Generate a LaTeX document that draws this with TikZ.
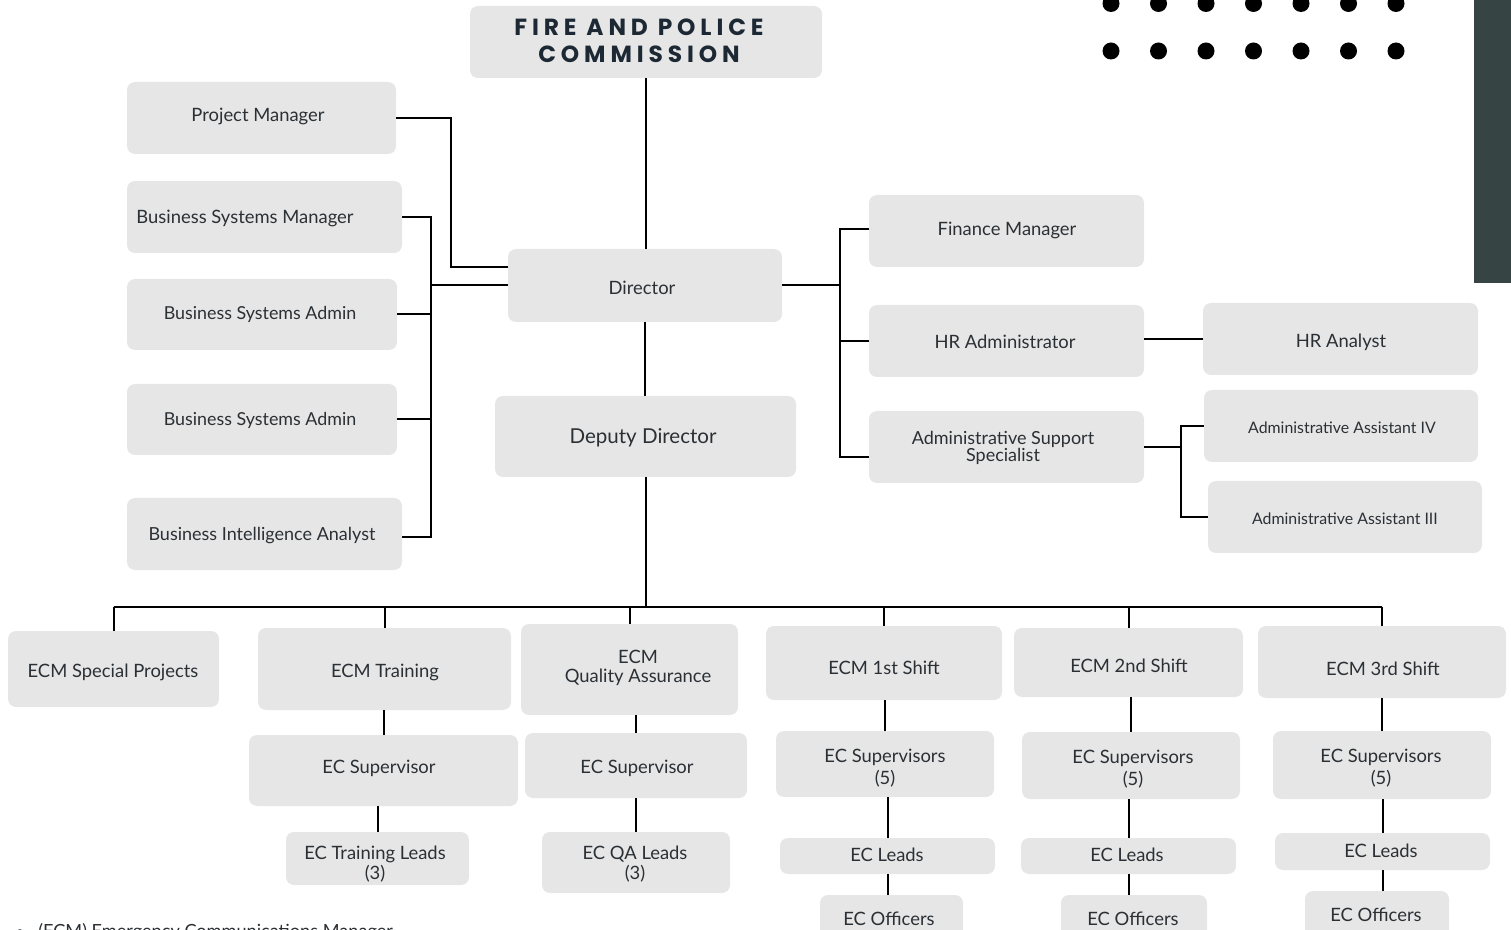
\documentclass[tikz,border=0pt]{standalone}
\usepackage{fontspec}
\setmainfont{Lato}
\newfontfamily\titlefont[LetterSpace=21]{Poppins}
\usetikzlibrary{calc}
\definecolor{boxgray}{HTML}{E6E6E6}
\definecolor{txtcol}{HTML}{2B3035}
\definecolor{titlecol}{HTML}{1C2833}
\definecolor{barcol}{HTML}{374444}
\tikzset{
  box/.style={fill=boxgray, rounded corners=6pt, inner sep=0pt, draw=none},
  txt/.style={text=txtcol, align=center, inner sep=0pt, yshift=-1.5pt, font=\fontsize{13.8}{13}\selectfont},
  small/.style={font=\fontsize{11.9}{12}\selectfont},
  big/.style={font=\fontsize{15.4}{16}\selectfont},
  conn/.style={line width=1.5pt, black},
}
% name x1 y1 x2 y2 tx ty [txt options] text
\newcommand\bx[9]{%
  \node[box, minimum width={(#4-#2)*0.75pt}, minimum height={(#5-#3)*0.75pt}] (#1) at ({(#2+#4)/2},{(#3+#5)/2}) {};
  \node[txt,#8] (#1t) at (#6,#7) {#9};}
\begin{document}
\begin{tikzpicture}[x=0.75pt,y=-0.75pt]
\useasboundingbox (0,0) rectangle (1511,930);
\clip (0,0) rectangle (1511,930);
% decorations
\fill[barcol] (1474,-5) rectangle (1520,283);
\foreach \i in {0,...,6} {
  \fill[black] ({1111+47.5*\i},3.5) circle (8.5);
  \fill[black] ({1111+47.5*\i},51) circle (8.5);
}
% title
\node[box, minimum width={352*0.75pt}, minimum height={72*0.75pt}] (fpc) at (646,42) {};
\node[text=titlecol, align=center, inner sep=0pt, font=\titlefont\bfseries\fontsize{17.5}{20.5}\selectfont] (fpct) at (639,41) {FIRE AND POLICE\\COMMISSION};
% left column
\bx{pm}{127}{82}{396}{154}{258}{114}{}{Project Manager}
\bx{bsm}{127}{181}{402}{253}{245}{216}{}{Business Systems Manager}
\bx{bsa1}{127}{279}{397}{350}{260}{312}{font=\fontsize{13.4}{13}\selectfont}{Business Systems Admin}
\bx{bsa2}{127}{384}{397}{455}{260}{418}{font=\fontsize{13.4}{13}\selectfont}{Business Systems Admin}
\bx{bia}{127}{498}{402}{570}{262}{534}{font=\fontsize{13.5}{13}\selectfont}{Business Intelligence Analyst}
% center
\bx{dir}{508}{249}{782}{322}{642}{286}{}{Director}
\bx{dep}{495}{396}{796}{477}{643}{436}{big}{Deputy Director}
% right
\bx{fm}{869}{195}{1144}{267}{1007}{228}{}{Finance Manager}
\bx{hra}{869}{305}{1144}{377}{1005}{340}{}{HR Administrator}
\bx{ass}{869}{411}{1144}{483}{1003}{446}{font=\fontsize{13.5}{12.75}\selectfont}{Administrative Support\\Specialist}
\bx{hran}{1203}{303}{1478}{375}{1341}{340}{}{HR Analyst}
\bx{aa4}{1204}{390}{1478}{462}{1342}{426}{small}{Administrative Assistant IV}
\bx{aa3}{1208}{481}{1482}{553}{1345}{517}{small}{Administrative Assistant III}
% ECM row
\bx{sp}{8}{631}{219}{707}{113}{670}{}{ECM Special Projects}
\bx{tr}{258}{628}{511}{710}{385}{670}{}{ECM Training}
\bx{qa}{521}{624}{738}{715}{638}{666}{font=\fontsize{13.8}{14.25}\selectfont}{ECM\\Quality Assurance}
\bx{s1}{766}{626}{1002}{700}{884}{666}{}{ECM 1st Shift}
\bx{s2}{1014}{628}{1243}{697}{1129}{664}{}{ECM 2nd Shift}
\bx{s3}{1258}{626}{1506}{698}{1383}{667}{}{ECM 3rd Shift}
% supervisors
\bx{trsup}{249}{735}{518}{806}{379}{766}{}{EC Supervisor}
\bx{qasup}{525}{733}{747}{798}{637}{766}{}{EC Supervisor}
\bx{s1sup}{776}{731}{994}{797}{885}{766}{font=\fontsize{13.8}{16.5}\selectfont}{EC Supervisors\\(5)}
\bx{s2sup}{1022}{732}{1240}{799}{1133}{767}{font=\fontsize{13.8}{16.5}\selectfont}{EC Supervisors\\(5)}
\bx{s3sup}{1273}{731}{1491}{799}{1381}{766}{font=\fontsize{13.8}{16.5}\selectfont}{EC Supervisors\\(5)}
% leads
\bx{trl}{286}{832}{469}{885}{375}{862}{font=\fontsize{13.8}{15}\selectfont}{EC Training Leads\\(3)}
\bx{qal}{542}{832}{730}{893}{635}{862}{font=\fontsize{13.8}{15}\selectfont}{EC QA Leads\\(3)}
\bx{l1}{780}{838}{995}{874}{887}{853}{}{EC Leads}
\bx{l2}{1021}{838}{1236}{874}{1127}{853}{}{EC Leads}
\bx{l3}{1275}{833}{1490}{870}{1381}{849}{}{EC Leads}
% officers
\bx{o1}{820}{895}{963}{950}{889}{917}{}{EC Officers}
\bx{o2}{1061}{895}{1207}{950}{1133}{917}{}{EC Officers}
\bx{o3}{1305}{891}{1449}{950}{1376}{913}{}{EC Officers}
% footnote
\node[text=txtcol, anchor=base west, inner sep=0pt, font=\fontsize{13.6}{13}\selectfont] (fn) at (38,937) {(ECM) Emergency Communications Manager};
\node[text=txtcol, anchor=base, inner sep=0pt, font=\fontsize{12}{12}\selectfont] (bul) at (20,937) {\textbullet};
% connectors
\coordinate (lb) at (431,0);
\coordinate (rb) at (840,0);
\coordinate (ab) at (1181,470);
\coordinate (bus) at (0,607);
\draw[conn] (fpc.south) -- (fpc.south |- dir.north);
\draw[conn] (dir.south) -- (dir.south |- dep.north);
\draw[conn] (pm.east) -- ++(55,0) |- ($(dir.west)+(0,-18)$);
\draw[conn] (bsm.east) -- (bsm.east -| lb) -- ($(bia.east -| lb)+(0,3)$) -- ($(bia.east)+(0,3)$);
\draw[conn] (bsa1.east) -- (bsa1.east -| lb);
\draw[conn] (bsa2.east) -- (bsa2.east -| lb);
\draw[conn] (dir.west) -- (dir.west -| lb);
\draw[conn] (dir.east) -- (dir.east -| rb);
\draw[conn] ($(fm.west)+(0,-2)$) -| ($(ass.west -| rb)+(0,10)$) -- ($(ass.west)+(0,10)$);
\draw[conn] (hra.west) -- (hra.west -| rb);
\draw[conn] ($(hra.east)+(0,-2)$) -- ($(hran.west)+(0,0)$);
\draw[conn] (ass.east) -- (ass.east -| ab);
\draw[conn] (aa4.west) -| (ab) |- (aa3.west);
\draw[conn] (dep.south) -- (dep.south |- bus);
\draw[conn] (sp.north |- bus) -- (s3.north |- bus);
\foreach \n in {sp,tr,qa,s1,s2,s3} { \draw[conn] (\n.north |- bus) -- (\n.north); }
\foreach \c/\p in {trsup/tr,qasup/qa,s1sup/s1,s2sup/s2,s3sup/s3,trl/trsup,qal/qasup,l1/s1sup,l2/s2sup,l3/s3sup} {
  \draw[conn] (\c.north) -- (\c.north |- \p.south);
}
\foreach \c/\p in {o1/l1,o2/l2,o3/l3} {
  \draw[conn] (\p.south) -- (\p.south |- \c.north);
}
\end{tikzpicture}
\end{document}
